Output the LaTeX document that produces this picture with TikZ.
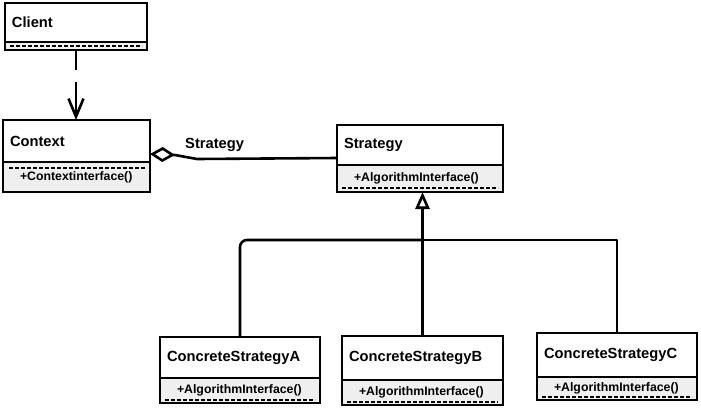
\documentclass[tikz,border=0pt]{standalone}
\usepackage{fontspec}
\setmainfont{Liberation Sans}
\usetikzlibrary{arrows.meta,calc}
\definecolor{opsgray}{HTML}{EFEFEF}
\begin{document}
\begin{tikzpicture}[x=1pt,y=-1pt,
  box/.style={draw=black, line width=2.7pt, rectangle, anchor=north west, outer sep=0pt,
    inner ysep=0pt, align=left, text=black, font=\bfseries\fontsize{14.7}{16}\selectfont},
  hdr/.style={box, fill=white, inner xsep=7pt},
  ops/.style={box, fill=opsgray, inner xsep=17pt, font=\bfseries\fontsize{12.3}{14}\selectfont},
  cmpdash/.style={line width=2.4pt, dash pattern=on 4pt off 2pt, draw=black},
  conn/.style={line width=2.6pt, draw=black, line join=round},
  lbl/.style={font=\bfseries\fontsize{14.7}{16}\selectfont, text=black, inner sep=0pt},
]
\useasboundingbox[fill=white] (0,0) rectangle (701,410);

% Client
\node[hdr, minimum width=142pt, minimum height=39pt, text width=128pt] (clientH) at (5,3) {Client};
\node[ops, minimum width=142pt, minimum height=8pt, text width=108pt] (clientO) at (clientH.south west) {};
\draw[cmpdash] ($(clientO.west)+(5,0)$) -- ($(clientO.east)+(-5,0)$);

% Context
\node[hdr, minimum width=147pt, minimum height=42pt, text width=133pt] (ctxH) at (3,120) {Context};
\node[ops, minimum width=147pt, minimum height=30pt, text width=113pt] (ctxO) at (ctxH.south west) {+Contextinterface()};
\draw[cmpdash] ($(ctxO.north west)+(6,6)$) -- ($(ctxO.north east)+(-5,6)$);

% Strategy
\node[hdr, minimum width=166pt, minimum height=40pt, text width=152pt] (strH) at (337,125) {Strategy};
\node[ops, minimum width=166pt, minimum height=27pt, text width=132pt] (strO) at (strH.south west) {+AlgorithmInterface()};
\draw[cmpdash] ($(strO.south west)+(5,-4)$) -- ($(strO.south east)+(-5,-4)$);

% ConcreteStrategyA
\node[hdr, minimum width=160pt, minimum height=41pt, text width=146pt] (aH) at (160,337) {ConcreteStrategyA};
\node[ops, minimum width=160pt, minimum height=25pt, text width=126pt] (aO) at (aH.south west) {+AlgorithmInterface()};
\draw[cmpdash] ($(aO.south west)+(5,-3)$) -- ($(aO.south east)+(-5,-3)$);

% ConcreteStrategyB
\node[hdr, minimum width=161pt, minimum height=44pt, text width=147pt] (bH) at (342,336) {ConcreteStrategyB};
\node[ops, minimum width=161pt, minimum height=25pt, text width=127pt] (bO) at (bH.south west) {+AlgorithmInterface()};
\draw[cmpdash] ($(bO.south west)+(5,-3)$) -- ($(bO.south east)+(-5,-3)$);

% ConcreteStrategyC
\node[hdr, minimum width=160pt, minimum height=44pt, text width=146pt] (cH) at (537,333) {ConcreteStrategyC};
\node[ops, minimum width=160pt, minimum height=23pt, text width=126pt] (cO) at (cH.south west) {+AlgorithmInterface()};
\draw[cmpdash] ($(cO.south west)+(5,-3)$) -- ($(cO.south east)+(-5,-3)$);

% Client -> Context (dependency)
\draw[conn, dash pattern=on 20pt off 12pt on 80pt off 1pt, -{Straight Barb[length=18pt,width=15pt]}]
  (clientO.south) -- (clientO.south |- ctxH.north);

% Aggregation Context <>-- Strategy
\coordinate (aggL) at ($(ctxH.south east)+(0,-8)$);
\coordinate (aggR) at ($(strH.south west)+(0,-7)$);
\draw[conn, {Diamond[open,length=25pt,width=15pt,fill=white]}-]
  (aggL) -- ++(25,1) -- ++(22,4) -- (aggR);
\node[lbl, anchor=west] (aggLbl) at (185,145) {Strategy};

% Inheritance
\coordinate (cj) at ($(bH.north)+(0,-96)$);
\draw[conn, -{Triangle[open,length=17pt,width=14pt,fill=white]}]
  (bH.north) -- (bH.north |- strO.south);
\draw[conn, rounded corners=7pt] (aH.north) |- (cj);
\draw[conn] (cj) -| (cH.north);
\end{tikzpicture}
\end{document}
